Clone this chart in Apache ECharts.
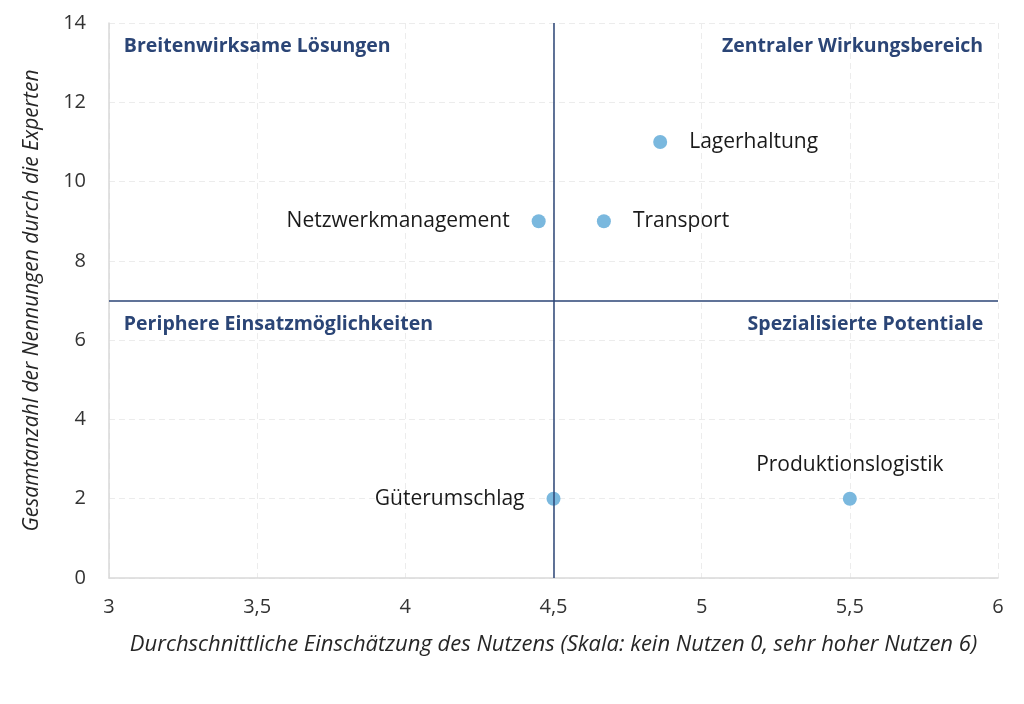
<!DOCTYPE html>
<html><head><meta charset="utf-8">
<script src="https://cdn.jsdelivr.net/npm/echarts@6/dist/echarts.min.js"></script>
<style>html,body{margin:0;padding:0;background:#fff}#c{width:1024px;height:704px}</style>
</head><body><div id="c"></div>
<script>
const names = ['Lagerhaltung','Netzwerkmanagement','Transport','Güterumschlag','Produktionslogistik'];
const xValues = [4.86, 4.45, 4.67, 4.5, 5.5];
const yValues = [11, 9, 9, 2, 2];
const labelPos = ['right','left','right','left','top'];
const quadrantNames = ['Breitenwirksame Lösungen','Zentraler Wirkungsbereich','Periphere Einsatzmöglichkeiten','Spezialisierte Potentiale'];
const quadrantX = [3.05, 5.95, 3.05, 5.95];
const quadrantY = [13.4, 13.4, 6.4, 6.4];
const quadrantAlign = ['left','right','left','right'];
const xDivider = 4.5, yDivider = 7;
const xTitle = 'Durchschnittliche Einschätzung des Nutzens (Skala: kein Nutzen 0, sehr hoher Nutzen 6)';
const yTitle = 'Gesamtanzahl der Nennungen durch die Experten';

const FONT = '"Open Sans", sans-serif';
const navy = '#2b4576';
const chart = echarts.init(document.getElementById('c'));
chart.setOption({
  animation: false,
  textStyle: {fontFamily: FONT},
  grid: {left: 109, right: 26, top: 23, bottom: 126},
  xAxis: {
    type: 'value', min: 3, max: 6, interval: 0.5,
    name: xTitle, nameLocation: 'middle', nameGap: 56,
    nameTextStyle: {fontStyle: 'italic', fontSize: 22, color: '#262626', fontFamily: FONT},
    axisLine: {show: true, lineStyle: {color: '#d9d9d9', width: 1.5}},
    axisTick: {show: false},
    axisLabel: {fontSize: 20, color: '#333', margin: 19, formatter: v => String(v).replace('.', ',')},
    splitLine: {show: true, lineStyle: {color: '#ececec', type: [6, 4]}}
  },
  yAxis: {
    type: 'value', min: 0, max: 14, interval: 2,
    name: yTitle, nameLocation: 'middle', nameGap: 66, nameRotate: 90,
    nameTextStyle: {fontStyle: 'italic', fontSize: 21, color: '#262626', fontFamily: FONT},
    axisLine: {show: true, lineStyle: {color: '#d9d9d9', width: 1.5}},
    axisTick: {show: false},
    axisLabel: {fontSize: 20, color: '#333', margin: 23},
    splitLine: {show: true, lineStyle: {color: '#ececec', type: [6, 4]}}
  },
  series: [
    {
      type: 'scatter',
      symbolSize: 14,
      itemStyle: {color: '#7ab8de', opacity: 1},
      data: names.map((n, i) => ({
        value: [xValues[i], yValues[i]], name: n,
        label: {show: true, position: labelPos[i], distance: labelPos[i] === 'top' ? 16 : 22,
          formatter: '{b}', fontSize: 21, color: '#1a1a1a', opacity: 1, fontFamily: FONT}
      })),
      markLine: {
        silent: true, symbol: 'none', label: {show: false},
        lineStyle: {color: navy, width: 1.5, type: 'solid', opacity: 1},
        data: [{xAxis: xDivider}, {yAxis: yDivider}]
      },
      z: 3
    },
    {
      type: 'scatter',
      symbolSize: 0,
      silent: true,
      itemStyle: {opacity: 1},
      data: quadrantNames.map((n, i) => ({
        value: [quadrantX[i], quadrantY[i]], name: n,
        label: {show: true, position: 'inside', align: quadrantAlign[i], verticalAlign: 'middle',
          formatter: '{b}', fontSize: 19.5, fontWeight: 'bold', color: navy, opacity: 1, fontFamily: FONT}
      }))
    }
  ]
});
</script></body></html>
